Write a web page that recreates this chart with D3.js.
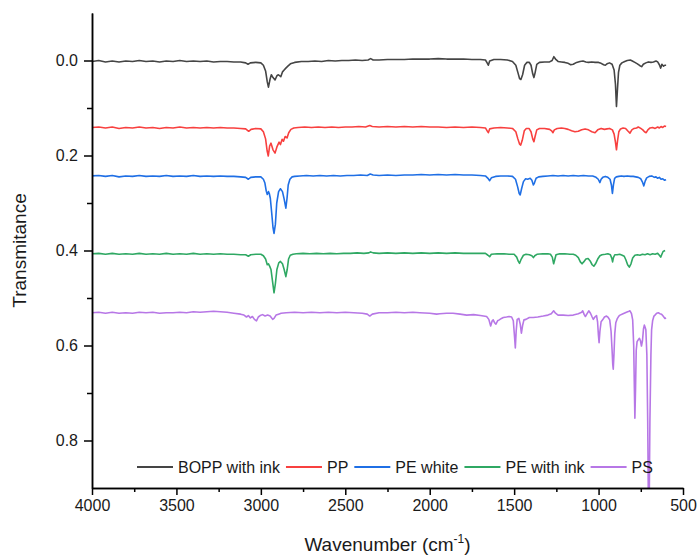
<!DOCTYPE html>
<html><head><meta charset="utf-8">
<script src="https://cdn.jsdelivr.net/npm/d3@7"></script>
<style>body{margin:0;background:#fff;} svg{display:block;}</style>
</head><body>
<svg id="chart" width="698" height="556"></svg>
<script>
const seriesNames = ["BOPP with ink", "PP", "PE white", "PE with ink", "PS"];
const seriesColors = ["#454545", "#f8403f", "#1f6fe5", "#2fa863", "#b777e6"];
const xMajorTicks = [4000, 3500, 3000, 2500, 2000, 1500, 1000, 500];
const xMinorTicks = [3750, 3250, 2750, 2250, 1750, 1250, 750];
const yMajorTicks = [0.0, 0.2, 0.4, 0.6, 0.8];
const yMinorTicks = [0.1, 0.3, 0.5, 0.7];

const bopp = [[4000,0.002],[3960,0.000],[3920,0.003],[3880,0.001],[3840,0.003],[3800,0.001],[3760,0.002],[3720,0.000],[3680,0.002],[3640,0.001],[3600,0.003],[3560,0.001],[3520,0.002],[3480,0.000],[3440,0.002],[3400,0.001],[3360,0.002],[3320,0.001],[3280,0.003],[3240,0.002],[3200,0.002],[3160,0.003],[3120,0.003],[3090,0.005],[3076,0.008],[3062,0.005],[3030,0.004],[3000,0.005],[2985,0.010],[2972,0.022],[2962,0.045],[2955,0.056],[2946,0.040],[2938,0.030],[2928,0.036],[2916,0.041],[2905,0.032],[2896,0.030],[2882,0.034],[2872,0.024],[2862,0.020],[2852,0.016],[2840,0.012],[2825,0.007],[2800,0.004],[2760,0.002],[2720,0.002],[2680,0.001],[2640,0.002],[2600,0.000],[2560,0.001],[2520,0.000],[2480,0.000],[2440,-0.001],[2400,0.000],[2365,-0.001],[2350,-0.004],[2335,-0.001],[2300,-0.001],[2250,-0.002],[2200,-0.002],[2150,-0.002],[2100,-0.003],[2050,-0.003],[2000,-0.003],[1950,-0.004],[1900,-0.003],[1850,-0.003],[1800,-0.003],[1750,-0.002],[1700,-0.002],[1670,-0.001],[1660,0.005],[1653,0.010],[1645,0.001],[1620,-0.002],[1580,-0.002],[1540,-0.001],[1510,0.002],[1490,0.010],[1478,0.025],[1468,0.038],[1460,0.040],[1450,0.030],[1438,0.010],[1425,0.004],[1410,0.004],[1400,0.010],[1390,0.028],[1383,0.036],[1376,0.026],[1366,0.008],[1350,0.004],[1320,0.003],[1290,0.003],[1275,0.000],[1265,-0.008],[1255,-0.003],[1240,0.002],[1220,0.003],[1200,0.004],[1180,0.006],[1165,0.009],[1150,0.008],[1130,0.004],[1110,0.002],[1092,0.001],[1075,0.003],[1060,0.004],[1040,0.003],[1020,0.004],[1000,0.004],[985,0.006],[970,0.009],[960,0.010],[950,0.007],[935,0.005],[920,0.008],[908,0.020],[900,0.050],[894,0.097],[888,0.060],[882,0.025],[874,0.010],[862,0.005],[845,0.002],[830,0.000],[812,-0.001],[800,0.001],[785,0.004],[770,0.007],[755,0.011],[745,0.013],[735,0.008],[720,0.005],[705,0.003],[690,0.004],[675,0.003],[660,0.001],[650,0.003],[640,0.009],[632,0.016],[625,0.008],[615,0.012],[608,0.010],[600,0.010]];

const pp = [[4000,0.141],[3960,0.140],[3920,0.142],[3880,0.140],[3840,0.143],[3800,0.141],[3760,0.142],[3720,0.140],[3680,0.142],[3640,0.141],[3600,0.143],[3560,0.141],[3520,0.142],[3480,0.140],[3440,0.142],[3400,0.141],[3360,0.142],[3320,0.141],[3280,0.142],[3240,0.141],[3200,0.142],[3160,0.142],[3120,0.143],[3090,0.144],[3072,0.149],[3058,0.145],[3030,0.143],[3000,0.144],[2985,0.150],[2972,0.165],[2963,0.190],[2956,0.201],[2948,0.180],[2940,0.174],[2928,0.188],[2916,0.195],[2905,0.182],[2892,0.172],[2884,0.177],[2874,0.166],[2866,0.170],[2856,0.160],[2845,0.163],[2835,0.152],[2822,0.145],[2805,0.142],[2780,0.141],[2740,0.140],[2700,0.141],[2660,0.140],[2620,0.141],[2580,0.140],[2540,0.141],[2500,0.140],[2460,0.140],[2420,0.139],[2380,0.140],[2355,0.137],[2340,0.139],[2300,0.140],[2250,0.139],[2200,0.140],[2150,0.139],[2100,0.140],[2050,0.139],[2000,0.140],[1950,0.140],[1900,0.141],[1850,0.140],[1800,0.141],[1750,0.140],[1700,0.141],[1670,0.142],[1660,0.148],[1653,0.152],[1645,0.144],[1620,0.142],[1580,0.141],[1540,0.142],[1510,0.143],[1490,0.150],[1478,0.165],[1468,0.176],[1461,0.178],[1452,0.168],[1440,0.148],[1428,0.143],[1412,0.143],[1400,0.150],[1390,0.165],[1383,0.171],[1376,0.160],[1366,0.146],[1350,0.143],[1320,0.143],[1290,0.145],[1278,0.148],[1270,0.152],[1262,0.146],[1245,0.143],[1220,0.142],[1200,0.143],[1180,0.145],[1160,0.148],[1140,0.150],[1120,0.149],[1100,0.146],[1080,0.144],[1060,0.146],[1040,0.150],[1021,0.152],[1005,0.146],[985,0.143],[965,0.145],[950,0.144],[935,0.143],[918,0.146],[908,0.155],[900,0.172],[894,0.188],[888,0.170],[880,0.150],[870,0.144],[855,0.142],[840,0.143],[825,0.149],[814,0.153],[803,0.146],[790,0.143],[775,0.142],[765,0.140],[750,0.143],[738,0.146],[728,0.150],[718,0.152],[708,0.146],[695,0.142],[680,0.141],[665,0.143],[650,0.140],[640,0.142],[630,0.139],[620,0.141],[610,0.138],[600,0.139]];

const peWhite = [[4000,0.243],[3960,0.242],[3920,0.244],[3880,0.242],[3840,0.245],[3800,0.243],[3760,0.244],[3720,0.242],[3680,0.244],[3640,0.243],[3600,0.244],[3560,0.242],[3520,0.244],[3480,0.243],[3440,0.244],[3400,0.242],[3360,0.244],[3320,0.243],[3280,0.244],[3240,0.243],[3200,0.244],[3160,0.244],[3120,0.245],[3090,0.246],[3074,0.250],[3060,0.246],[3030,0.245],[3000,0.245],[2985,0.250],[2976,0.258],[2968,0.275],[2962,0.282],[2955,0.276],[2950,0.280],[2944,0.290],[2936,0.320],[2928,0.352],[2922,0.364],[2914,0.345],[2906,0.300],[2895,0.276],[2884,0.270],[2872,0.276],[2862,0.292],[2852,0.311],[2845,0.290],[2838,0.262],[2828,0.250],[2815,0.245],[2800,0.244],[2770,0.243],[2730,0.242],[2690,0.243],[2650,0.242],[2610,0.243],[2570,0.242],[2530,0.243],[2490,0.242],[2450,0.242],[2410,0.241],[2370,0.242],[2352,0.239],[2335,0.241],[2300,0.242],[2250,0.241],[2200,0.242],[2150,0.241],[2100,0.241],[2050,0.240],[2000,0.241],[1950,0.240],[1900,0.241],[1850,0.240],[1800,0.241],[1750,0.241],[1700,0.242],[1670,0.243],[1655,0.248],[1645,0.253],[1635,0.247],[1610,0.244],[1580,0.243],[1540,0.243],[1510,0.244],[1492,0.250],[1480,0.265],[1470,0.280],[1464,0.283],[1456,0.270],[1445,0.255],[1432,0.249],[1420,0.250],[1405,0.248],[1395,0.252],[1386,0.262],[1380,0.258],[1370,0.248],[1355,0.245],[1330,0.244],[1300,0.243],[1270,0.242],[1240,0.243],[1210,0.242],[1180,0.243],[1150,0.242],[1120,0.243],[1090,0.242],[1060,0.243],[1035,0.243],[1015,0.246],[1002,0.250],[992,0.257],[985,0.250],[975,0.246],[960,0.244],[945,0.246],[932,0.250],[924,0.262],[918,0.280],[912,0.262],[905,0.248],[895,0.245],[880,0.244],[865,0.243],[850,0.244],[830,0.243],[810,0.244],[795,0.244],[780,0.245],[765,0.246],[750,0.249],[740,0.256],[732,0.264],[724,0.254],[715,0.247],[700,0.244],[685,0.243],[670,0.246],[660,0.245],[650,0.248],[640,0.246],[630,0.250],[620,0.249],[610,0.252],[600,0.251]];

const peInk = [[4000,0.407],[3960,0.406],[3920,0.408],[3880,0.406],[3840,0.408],[3800,0.407],[3760,0.408],[3720,0.406],[3680,0.408],[3640,0.407],[3600,0.408],[3560,0.406],[3520,0.408],[3480,0.407],[3440,0.408],[3400,0.406],[3360,0.408],[3320,0.407],[3280,0.408],[3240,0.407],[3200,0.408],[3160,0.408],[3120,0.409],[3090,0.409],[3074,0.412],[3060,0.409],[3030,0.408],[3000,0.408],[2985,0.411],[2972,0.418],[2962,0.430],[2955,0.428],[2948,0.433],[2940,0.440],[2932,0.462],[2922,0.489],[2914,0.470],[2905,0.440],[2894,0.426],[2884,0.423],[2872,0.428],[2862,0.440],[2852,0.455],[2844,0.440],[2836,0.418],[2826,0.410],[2810,0.408],[2790,0.407],[2750,0.406],[2710,0.407],[2670,0.406],[2630,0.407],[2590,0.406],[2550,0.407],[2510,0.406],[2470,0.406],[2430,0.405],[2390,0.406],[2360,0.405],[2350,0.403],[2335,0.405],[2300,0.406],[2250,0.405],[2200,0.406],[2150,0.405],[2100,0.406],[2050,0.405],[2000,0.406],[1950,0.405],[1900,0.406],[1850,0.405],[1800,0.406],[1750,0.406],[1700,0.406],[1670,0.406],[1655,0.410],[1645,0.413],[1635,0.408],[1600,0.407],[1560,0.407],[1530,0.408],[1500,0.408],[1485,0.414],[1475,0.423],[1468,0.427],[1458,0.418],[1445,0.410],[1430,0.408],[1410,0.409],[1395,0.411],[1386,0.415],[1378,0.411],[1365,0.408],[1330,0.407],[1300,0.407],[1285,0.408],[1274,0.414],[1266,0.428],[1260,0.420],[1252,0.409],[1230,0.407],[1200,0.407],[1170,0.408],[1150,0.408],[1135,0.410],[1120,0.415],[1108,0.424],[1098,0.428],[1088,0.424],[1075,0.418],[1062,0.417],[1050,0.422],[1038,0.430],[1028,0.433],[1018,0.428],[1005,0.418],[992,0.411],[980,0.409],[960,0.408],[945,0.407],[930,0.409],[922,0.416],[917,0.424],[912,0.415],[904,0.409],[890,0.409],[875,0.408],[860,0.410],[848,0.412],[838,0.420],[828,0.430],[818,0.435],[808,0.428],[798,0.416],[785,0.410],[770,0.409],[755,0.410],[740,0.408],[725,0.409],[710,0.407],[695,0.409],[680,0.407],[665,0.408],[650,0.406],[640,0.410],[632,0.414],[625,0.408],[618,0.402],[612,0.401],[606,0.400]];

const ps = [[4000,0.531],[3960,0.530],[3920,0.532],[3880,0.530],[3840,0.532],[3800,0.531],[3760,0.532],[3720,0.530],[3680,0.531],[3640,0.530],[3600,0.532],[3560,0.531],[3520,0.531],[3480,0.530],[3440,0.531],[3400,0.529],[3360,0.530],[3320,0.529],[3280,0.528],[3240,0.529],[3200,0.530],[3160,0.532],[3120,0.534],[3100,0.536],[3085,0.540],[3074,0.537],[3062,0.542],[3050,0.539],[3038,0.545],[3026,0.548],[3015,0.540],[3004,0.537],[2990,0.535],[2975,0.538],[2960,0.536],[2945,0.538],[2930,0.545],[2922,0.543],[2910,0.536],[2895,0.534],[2880,0.532],[2850,0.531],[2800,0.530],[2750,0.531],[2700,0.530],[2650,0.531],[2600,0.530],[2550,0.531],[2500,0.530],[2450,0.531],[2400,0.532],[2370,0.534],[2355,0.538],[2340,0.534],[2300,0.531],[2250,0.531],[2200,0.530],[2150,0.531],[2100,0.530],[2058,0.531],[2000,0.532],[1959,0.534],[1940,0.533],[1900,0.532],[1862,0.532],[1820,0.534],[1781,0.536],[1740,0.535],[1700,0.537],[1663,0.539],[1650,0.545],[1639,0.559],[1630,0.548],[1624,0.546],[1616,0.552],[1608,0.555],[1598,0.548],[1588,0.546],[1575,0.543],[1564,0.541],[1545,0.540],[1530,0.539],[1515,0.540],[1505,0.548],[1498,0.580],[1493,0.605],[1488,0.570],[1482,0.545],[1472,0.543],[1464,0.555],[1457,0.574],[1450,0.558],[1442,0.546],[1430,0.545],[1410,0.541],[1387,0.541],[1360,0.540],[1328,0.538],[1300,0.536],[1280,0.533],[1266,0.527],[1255,0.532],[1240,0.536],[1210,0.536],[1180,0.537],[1150,0.536],[1120,0.533],[1100,0.530],[1094,0.527],[1085,0.535],[1078,0.539],[1068,0.533],[1058,0.527],[1048,0.532],[1038,0.540],[1031,0.545],[1022,0.540],[1012,0.537],[1006,0.550],[1001,0.578],[997,0.594],[992,0.570],[985,0.550],[976,0.546],[965,0.540],[953,0.538],[943,0.541],[934,0.546],[926,0.570],[920,0.610],[916,0.640],[913,0.650],[909,0.620],[904,0.575],[898,0.552],[890,0.544],[880,0.538],[873,0.536],[855,0.533],[835,0.530],[820,0.528],[814,0.527],[805,0.533],[798,0.546],[792,0.600],[788,0.690],[785,0.753],[781,0.690],[777,0.610],[772,0.592],[765,0.588],[758,0.585],[752,0.590],[746,0.601],[740,0.590],[734,0.565],[729,0.557],[724,0.562],[720,0.567],[714,0.620],[709,0.760],[705,0.930],[700,0.930],[696,0.760],[690,0.620],[686,0.567],[680,0.548],[672,0.538],[666,0.536],[656,0.532],[646,0.531],[637,0.533],[627,0.534],[618,0.538],[607,0.543],[600,0.542]];

const allSeries = [bopp, pp, peWhite, peInk, ps];

const svg = d3.select("#chart");
const FONT = "'Liberation Sans', Arial, sans-serif";
const mL = 92, mR = 683, mT = 13, mB = 488;
const x = d3.scaleLinear().domain([4000, 500]).range([mL, mR]);
const y = d3.scaleLinear().domain([-0.1, 0.9]).range([mT, mB]);

svg.append("defs").append("clipPath").attr("id", "clip")
  .append("rect").attr("x", mL).attr("y", mT).attr("width", mR - mL).attr("height", mB - mT);

const line = d3.line().x(d => x(d[0])).y(d => y(d[1]));
const plot = svg.append("g").attr("clip-path", "url(#clip)");
allSeries.forEach((s, i) => {
  plot.append("path").datum(s).attr("d", line)
    .attr("fill", "none").attr("stroke", seriesColors[i])
    .attr("stroke-width", 1.6).attr("stroke-linejoin", "round");
});

const yAxis = d3.axisLeft(y).tickValues(yMajorTicks).tickFormat(d3.format(".1f")).tickSize(8).tickSizeOuter(0).tickPadding(6);
const yMinor = d3.axisLeft(y).tickValues(yMinorTicks).tickFormat("").tickSize(5).tickSizeOuter(0);
const xAxis = d3.axisBottom(x).tickValues(xMajorTicks).tickFormat(d3.format("d")).tickSize(7).tickSizeOuter(0).tickPadding(5);
const xMinor = d3.axisBottom(x).tickValues(xMinorTicks).tickFormat("").tickSize(4).tickSizeOuter(0);

function styleAxis(g) {
  g.selectAll("path.domain").attr("stroke", "#000").attr("stroke-width", 1.5);
  g.selectAll(".tick line").attr("stroke", "#000").attr("stroke-width", 1.5);
  g.selectAll(".tick text").attr("font-family", FONT).attr("font-size", 16).attr("fill", "#1a1a1a");
}
svg.append("g").attr("transform", `translate(${mL},0)`).call(yMinor).call(styleAxis);
svg.append("g").attr("transform", `translate(${mL},0)`).call(yAxis).call(styleAxis);
svg.append("g").attr("transform", `translate(0,${mB})`).call(xMinor).call(styleAxis);
svg.append("g").attr("transform", `translate(0,${mB})`).call(xAxis).call(styleAxis);

svg.append("text").attr("transform", `translate(26,${(mT + mB) / 2}) rotate(-90)`)
  .attr("text-anchor", "middle").attr("font-family", FONT).attr("font-size", 19).attr("fill", "#1a1a1a")
  .text("Transmitance");
const xt = svg.append("text").attr("x", (mL + mR) / 2).attr("y", 551)
  .attr("text-anchor", "middle").attr("font-family", FONT).attr("font-size", 19).attr("fill", "#1a1a1a");
xt.append("tspan").text("Wavenumber (cm");
xt.append("tspan").attr("font-size", 12).attr("dy", -8).text("-1");
xt.append("tspan").attr("dy", 8).text(")");

const legend = svg.append("g");
let lx = 137;
const ly = 467;
seriesNames.forEach((name, i) => {
  legend.append("line").attr("x1", lx).attr("x2", lx + 36).attr("y1", ly).attr("y2", ly)
    .attr("stroke", seriesColors[i]).attr("stroke-width", 1.8);
  const t = legend.append("text").attr("x", lx + 41).attr("y", ly + 5.5)
    .attr("font-family", FONT).attr("font-size", 16).attr("fill", "#1a1a1a").text(name);
  lx = lx + 41 + t.node().getComputedTextLength() + 6;
});
</script>
</body></html>
